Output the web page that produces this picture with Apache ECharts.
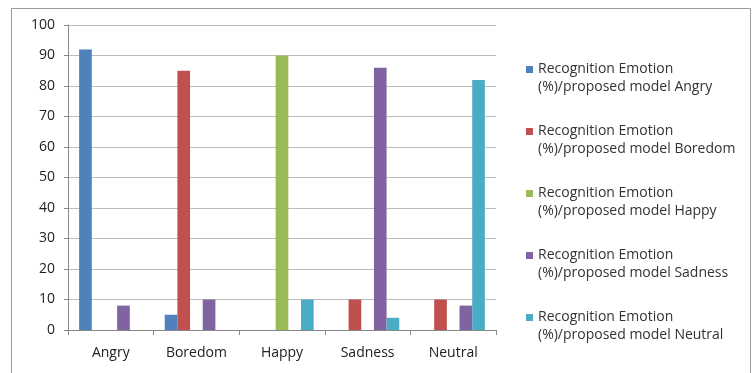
<!DOCTYPE html>
<html>
<head>
<meta charset="utf-8">
<title>Recognition Emotion</title>
<script src="https://cdn.jsdelivr.net/npm/echarts@6/dist/echarts.min.js"></script>
<style>
    html, body { margin: 0; padding: 0; background: #fff; }
    #chart { width: 753px; height: 373px; }
</style>
</head>
<body>
<div id="chart"></div>
<script>
    // categories and series values
    var categories = ['Angry', 'Boredom', 'Happy', 'Sadness', 'Neutral'];
    var seriesNames = [
        'Recognition Emotion\n(%)/proposed model Angry',
        'Recognition Emotion\n(%)/proposed model Boredom',
        'Recognition Emotion\n(%)/proposed model Happy',
        'Recognition Emotion\n(%)/proposed model Sadness',
        'Recognition Emotion\n(%)/proposed model Neutral'
    ];
    var angryValues   = [92, 5, 0, 0, 0];
    var boredomValues = [0, 85, 0, 10, 10];
    var happyValues   = [0, 0, 90, 0, 0];
    var sadnessValues = [8, 10, 0, 86, 8];
    var neutralValues = [0, 0, 10, 4, 82];
    var colors = ['#4F81BD', '#C0504D', '#9BBB59', '#8064A2', '#4BACC6'];

    var chart = echarts.init(document.getElementById('chart'));
    var font = '"Open Sans", Lato, sans-serif';

    // square near the top of a tall box -> icon sits next to first text line
    var legendIcon = 'path://M0,0L0.01,0L0,0Z M0,6L7,6L7,13L0,13Z M0,36L0.01,36L0,36Z';

    var allValues = [angryValues, boredomValues, happyValues, sadnessValues, neutralValues];
    var series = [];
    for (var i = 0; i < seriesNames.length; i++) {
        series.push({
            name: seriesNames[i],
            type: 'bar',
            data: allValues[i],
            barGap: '0%',
            barCategoryGap: '26%',
            itemStyle: { color: colors[i] },
            emphasis: { disabled: true }
        });
    }

    chart.setOption({
        animation: false,
        textStyle: { fontFamily: font },
        graphic: [{
            type: 'rect',
            shape: { x: 11.5, y: 8.5, width: 739, height: 380 },
            style: { fill: 'none', stroke: '#9a9a9a', lineWidth: 1 },
            silent: true
        }],
        grid: { left: 68, right: 257, top: 25, bottom: 43 },
        legend: {
            orient: 'vertical',
            left: 521,
            top: 55,
            itemWidth: 7,
            itemHeight: 36,
            itemGap: 26,
            icon: legendIcon,
            textStyle: { fontFamily: font, fontSize: 14, color: '#333', lineHeight: 18 },
            data: seriesNames
        },
        xAxis: {
            type: 'category',
            data: categories,
            axisLine: { lineStyle: { color: '#888' } },
            axisTick: { show: true, length: 5, lineStyle: { color: '#888' } },
            axisLabel: { fontSize: 14, color: '#222', margin: 16, fontFamily: font }
        },
        yAxis: {
            type: 'value',
            min: 0,
            max: 100,
            interval: 10,
            axisLine: { show: true, lineStyle: { color: '#888' } },
            axisTick: { show: true, length: 4, lineStyle: { color: '#888' } },
            axisLabel: { fontSize: 14, color: '#222', margin: 13, fontFamily: font },
            splitLine: { lineStyle: { color: '#bdbdbd' } }
        },
        series: series
    });
</script>
</body>
</html>
